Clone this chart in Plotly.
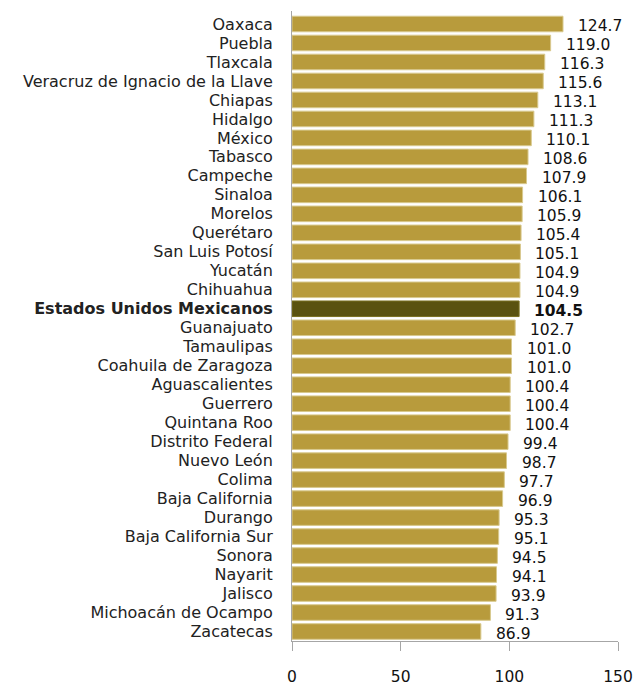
import plotly.graph_objects as go

estados = [
    "Oaxaca", "Puebla", "Tlaxcala", "Veracruz de Ignacio de la Llave", "Chiapas",
    "Hidalgo", "México", "Tabasco", "Campeche", "Sinaloa", "Morelos", "Querétaro",
    "San Luis Potosí", "Yucatán", "Chihuahua", "Estados Unidos Mexicanos",
    "Guanajuato", "Tamaulipas", "Coahuila de Zaragoza", "Aguascalientes",
    "Guerrero", "Quintana Roo", "Distrito Federal", "Nuevo León", "Colima",
    "Baja California", "Durango", "Baja California Sur", "Sonora", "Nayarit",
    "Jalisco", "Michoacán de Ocampo", "Zacatecas",
]
valores = [
    124.7, 119.0, 116.3, 115.6, 113.1, 111.3, 110.1, 108.6, 107.9, 106.1, 105.9,
    105.4, 105.1, 104.9, 104.9, 104.5, 102.7, 101.0, 101.0, 100.4, 100.4, 100.4,
    99.4, 98.7, 97.7, 96.9, 95.3, 95.1, 94.5, 94.1, 93.9, 91.3, 86.9,
]
nacional = "Estados Unidos Mexicanos"
x_ticks = [0, 50, 100, 150]

FONT = "DejaVu Sans"
ORO = "#B89B3C"
OLIVO = "#5A5210"

colores = [OLIVO if e == nacional else ORO for e in estados]
bordes = ["#7A7020" if e == nacional else "#D8C98E" for e in estados]
etiquetas_y = [f"<b>{e}</b>" if e == nacional else e for e in estados]

fig = go.Figure(go.Bar(
    x=valores, y=estados, orientation="h",
    marker=dict(color=colores, line=dict(color=bordes, width=1)),
    hoverinfo="x+y",
))

for e, v in zip(estados, valores):
    txt = f"{v:.1f}"
    if e == nacional:
        txt = f"<b>{txt}</b>"
    fig.add_annotation(x=v, y=e, text=txt, showarrow=False, xanchor="left",
                       xshift=13, yshift=-2, font=dict(family=FONT, size=15.5, color="#111"))

fig.update_layout(
    width=633, height=687,
    margin=dict(l=292, r=15, t=11, b=46),
    paper_bgcolor="white", plot_bgcolor="white",
    bargap=0.18, showlegend=False,
    font=dict(family=FONT, size=15.5, color="#222"),
)
fig.update_xaxes(
    range=[0, 150], tickvals=x_ticks, ticktext=[str(t) for t in x_ticks],
    showgrid=False, zeroline=False, showline=True, linecolor="#A6A6A6", linewidth=1,
    ticks="outside", ticklen=9, tickcolor="#A6A6A6", ticklabelstandoff=12,
    ticklabeloverflow="allow",
    tickfont=dict(family=FONT, size=15.5, color="#111"), automargin=False,
)
fig.update_yaxes(
    categoryorder="array", categoryarray=estados, autorange="reversed",
    tickvals=estados, ticktext=etiquetas_y,
    showgrid=False, zeroline=False, showline=True, linecolor="#A6A6A6", linewidth=1,
    ticks="", ticklabelstandoff=15,
    tickfont=dict(family=FONT, size=16, color="#222"), automargin=False,
)

fig.write_html("out.html")
